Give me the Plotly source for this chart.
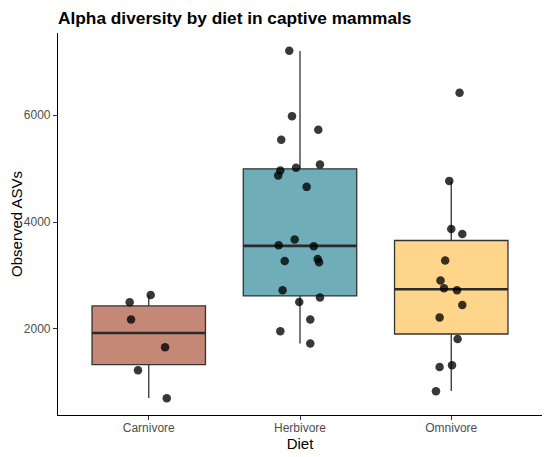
import plotly.graph_objects as go

# ---- data ----
categories = ["Carnivore", "Herbivore", "Omnivore"]

carnivore_asvs = [2500, 2637, 2176, 1657, 1226, 702]
carnivore_jitter = [-0.126, 0.013, -0.117, 0.108, -0.071, 0.119]

herbivore_asvs = [7207, 5984, 5727, 5540, 5079, 4967, 5016, 4873, 4660, 3674,
                  3568, 3549, 3274, 3311, 3249, 2725, 2588, 2506, 2176, 1957, 1727]
herbivore_jitter = [-0.071, -0.053, 0.121, -0.124, 0.132, -0.130, -0.026, -0.144, 0.044, -0.035,
                    -0.141, 0.091, -0.101, 0.117, 0.126, -0.115, 0.132, -0.005, 0.068, -0.130, 0.068]

omnivore_asvs = [6420, 4772, 3873, 3779, 3281, 2907, 2762, 2725, 2450, 2213, 1813, 1320, 1288, 833]
omnivore_jitter = [0.055, -0.013, 0.0, 0.073, -0.040, -0.071, -0.048, 0.038, 0.073, -0.077,
                   0.042, 0.005, -0.077, -0.101]

# box statistics as drawn
box_q1 = [1333, 2618, 1906]
box_median = [1925, 3555, 2744]
box_q3 = [2431, 4997, 3656]
box_lower = [707, 1727, 839]
box_upper = [2631, 7201, 4766]

fill_colors = ["#C58877", "#6FADB8", "#FFD58C"]
y_ticks = [2000, 4000, 6000]

values = [carnivore_asvs, herbivore_asvs, omnivore_asvs]
jitters = [carnivore_jitter, herbivore_jitter, omnivore_jitter]

# page body has an 8px margin, so the figure is sized to fill the rest of the window
FIG_W, FIG_H = 542, 449
BOX_W = 0.75
fig = go.Figure()

for i, cat in enumerate(categories):
    fig.add_trace(go.Box(
        x=[i], q1=[box_q1[i]], median=[box_median[i]], q3=[box_q3[i]],
        lowerfence=[box_lower[i]], upperfence=[box_upper[i]],
        width=BOX_W, whiskerwidth=0, fillcolor=fill_colors[i],
        line=dict(color="#333333", width=1.3), boxpoints=False,
        name=cat, showlegend=False, hoverinfo="skip",
    ))
    # thicker median line like ggplot
    fig.add_trace(go.Scatter(
        x=[i - BOX_W / 2, i + BOX_W / 2], y=[box_median[i]] * 2,
        mode="lines", line=dict(color="#2b2b2b", width=2.6),
        showlegend=False, hoverinfo="skip",
    ))

for i, cat in enumerate(categories):
    fig.add_trace(go.Scatter(
        x=[i + j for j in jitters[i]], y=values[i], mode="markers",
        marker=dict(size=8.5, color="rgba(0,0,0,0.78)", line=dict(width=0)),
        showlegend=False, name=cat,
    ))

fig.update_layout(
    width=FIG_W, height=FIG_H,
    margin=dict(l=50, r=8, t=25, b=42, autoexpand=False),
    paper_bgcolor="white", plot_bgcolor="white",
    font=dict(family="Liberation Sans, Arial, sans-serif", color="black"),
    title=dict(text="<b>Alpha diversity by diet in captive mammals</b>",
               font=dict(size=17.3, color="black"),
               x=50 / FIG_W, xanchor="left", xref="container",
               y=1 - 3.5 / FIG_H, yanchor="top", yref="container"),
)
fig.update_xaxes(
    range=[-0.6, 2.6], tickmode="array", tickvals=list(range(len(categories))),
    ticktext=categories, showline=True, linecolor="black", linewidth=1.1,
    ticks="outside", ticklen=4, tickcolor="#333333", tickwidth=1,
    tickfont=dict(size=12, color="#4D4D4D"), showgrid=False, zeroline=False,
    automargin=False, ticklabelstandoff=-2,
    title=dict(text="Diet", font=dict(size=15, color="black"), standoff=2),
)
fig.update_yaxes(
    range=[390, 7540], tickmode="array", tickvals=y_ticks,
    showline=True, linecolor="black", linewidth=1.1,
    ticks="outside", ticklen=4, tickcolor="#333333", tickwidth=1,
    tickfont=dict(size=12, color="#4D4D4D"), showgrid=False, zeroline=False,
    automargin=False, ticklabelstandoff=0,
    title=dict(text="Observed ASVs", font=dict(size=15, color="black"), standoff=6),
)

fig.write_html("out.html")
